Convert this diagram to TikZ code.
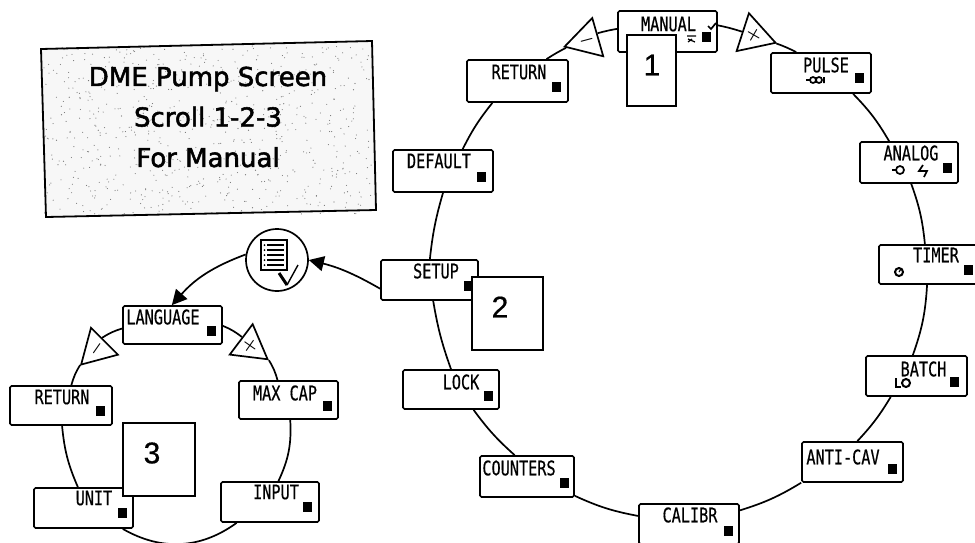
\documentclass[tikz,border=0pt]{standalone}
\usepackage{graphicx}
\usepackage{fontspec}
\setmainfont{DejaVu Sans}
\newfontfamily\lcdfont[FakeStretch=.76,FakeBold=.5]{DejaVu Sans Mono}
\newfontfamily\titlefont[FakeBold=2]{DejaVu Sans}
\newfontfamily\digitfont[FakeBold=.6]{Liberation Sans}
\newcommand{\signmark}[2]{\makebox[0pt]{\raisebox{-.25em}[0pt][0pt]{\rotatebox[origin=c]{#1}{$#2$}}}}
\usetikzlibrary{arrows.meta}
\usetikzlibrary{shapes.geometric}
\usetikzlibrary{calc}
\tikzset{
 screenbox/.style={draw=black, fill=white, line width=1.7, rounded corners=1.5, inner sep=0},
 ledmark/.style={fill=black, inner sep=0, minimum width=9, minimum height=10},
 lcdtext/.style={font=\lcdfont\fontsize{20}{20}\selectfont, inner sep=0},
 stepbox/.style={draw=black, fill=white, line width=1.7, inner sep=0},
 stepdigit/.style={font=\digitfont\fontsize{30}{30}\selectfont, inner sep=0},
 signtri/.style={draw=black, fill=white, line width=1.7, regular polygon, regular polygon sides=3, inner sep=0, font=\boldmath\fontsize{17}{17}\selectfont},
 ringline/.style={black, line width=1.7},
 iconline/.style={black, line width=1.2},
}
\begin{document}
\begin{tikzpicture} [x=1pt, y=-1pt]
\clip (0,0) rectangle (975,542);
% title panel
\fill[black!3] (41,49)--(372,41)--(376,210)--(46,217)--cycle;
\pgfmathsetseed{7}
\foreach \i in {1,...,700} {
 \fill[black!55] ({44+rnd*328},{46+rnd*168}) circle (.55);
}
\draw[black, line width=1.8] (41,49)--(372,41)--(376,210)--(46,217)--cycle;
\node[inner sep=0, align=center, font=\titlefont\fontsize{26}{40.5}\selectfont] (title) at (208,117) {DME Pump Screen\\Scroll 1-2-3\\For Manual};
% screens
\foreach \name/\cx/\cy/\w/\h/\tx/\ty/\lx/\ly/\txt in {
 manual/667.5/31.5/99/41/668.5/24/706/37/MANUAL,
 pulse/821/73/100/40/826/65/859/78/PULSE,
 analog/909/162.5/98/41/911/153/947/168/ANALOG,
 timer/928.5/264.5/99/39/936/255/968/270/TIMER,
 batch/916.5/376/101/40/923.5/369/954/382/BATCH,
 anticav/852.5/462/101/40/843/457/892/469/ANTI-CAV,
 calibr/689/524/100/40/690/515/728/531/CALIBR,
 counters/527/476.5/94/41/519/468/564/483/COUNTERS,
 lock/451/389.5/96/39/461/382/488/396/LOCK,
 setup/429.5/280/97/40/436/271/468/286/SETUP,
 default/443/171/100/42/439/161/481/177/DEFAULT,
 return/517.5/81/101/42/519/72/556/87/RETURN,
 language/172.5/325/99/38/163/317/211/331/LANGUAGE,
 maxcap/288.5/400/99/38/285/393/327/406/MAX CAP,
 input/270/502/98/40/276/492/307/507/INPUT,
 unit/83.5/508/99/40/94/498/122/513/UNIT,
 backup/61/405.5/102/39/62/397/100/411/RETURN} {
 \node[screenbox, minimum width=\w, minimum height=\h] (\name) at (\cx,\cy) {};
 \node[lcdtext] (\name text) at (\tx,\ty) {\txt};
 \node[ledmark] (\name led) at (\lx,\ly) {};
}
% plus and minus signs
\node[signtri, minimum size=46, shape border rotate=12] (plusbig) at (753.7,35.7) {\signmark{15}{\times}};
\node[signtri, minimum size=46, shape border rotate=-14] (minusbig) at (586.7,40.3) {\signmark{15}{-}};
\node[signtri, minimum size=44, shape border rotate=-7] (plussmall) at (250,346) {\signmark{10}{\times}};
\node[signtri, minimum size=44, shape border rotate=15] (minussmall) at (96.7,349) {\signmark{55}{-}};
% rings
\foreach \a/\aa/\b/\ba/\bn in {
 manual/7.5/plusbig/161/3, plusbig/-19/pulse/140/4, pulse/-33/analog/133/7,
 analog/-84/timer/100/7, timer/-94/batch/100/8, batch/-141/anticav/77/6,
 anticav/-158/calibr/15/7, calibr/171/counters/-22/7, counters/120/lock/-42/6,
 lock/90/setup/-80/5, setup/89/default/-90/5, default/48/return/-139/6,
 return/37/minusbig/200/3, minusbig/33/manual/177/3,
 language/-1/plussmall/132/8, plussmall/-37/maxcap/119/8, maxcap/-85.5/input/68/14,
 input/-148/unit/-28/33, unit/105/backup/-87/9, backup/63/minussmall/-136/8,
 minussmall/64/language/-176/8} {
 \draw[ringline] (\a.\aa) to[bend left=\bn] (\b.\ba);
}
% checklist icon
\node[circle, draw=black, fill=white, line width=1.7, minimum size=62, inner sep=0] (checklist) at (277,260) {};
\draw[black, line width=1.6] (261,240) rectangle (287,270);
\foreach \y in {245,250,255,260,265} {
 \draw[iconline, line width=1.5] (267,\y)--(284,\y);
 \fill[black] (264.5,\y) circle (1);
}
\draw[black, line width=3] (279,273)--(287,285);
\draw[black, line width=1.4] (287,285)--(298,265);
\draw[ringline, -{Triangle[length=15,width=15]}] (setup.-170) to[bend right=8] (checklist.0);
\draw[ringline, -{Triangle[length=15,width=15]}] (checklist.170) to[bend right=14] (language.92);
% little symbols on the screens
\draw[iconline, line width=1.7] (708,26)--(711,29)--(716,23);
\draw[iconline] (687,36)--(696,36) (688,39)--(695,42) (688,42)--(692,39);
\draw[iconline] (806,80)--(810,80);
\draw[iconline, line width=1.7] (813,80) circle (3) (819,80) circle (3) (824,77)--(824,83);
\draw[iconline] (892,170)--(896,170);
\draw[iconline, line width=1.7] (900,170) circle (4);
\draw[iconline, line width=1.7] (923,165)--(919,171)--(927,171)--(924,177);
\draw[iconline, line width=2] (899,272) circle (4);
\draw[iconline] (899,272)--(901,269);
\draw[iconline, line width=2] (896,378)--(896,387)--(901,387);
\draw[iconline, line width=2] (906,383) circle (4);
% step numbers
\foreach \i/\cx/\cy/\w/\h/\tx/\ty in {
 1/651.5/70.5/49/71/652/65,
 2/507.5/313.5/71/73/500/307,
 3/159/459.5/72/73/152/453} {
 \node[stepbox, minimum width=\w, minimum height=\h] (stepbox\i) at (\cx,\cy) {};
 \node[stepdigit] (digit\i) at (\tx,\ty) {\i};
}
\end{tikzpicture}
\end{document}
